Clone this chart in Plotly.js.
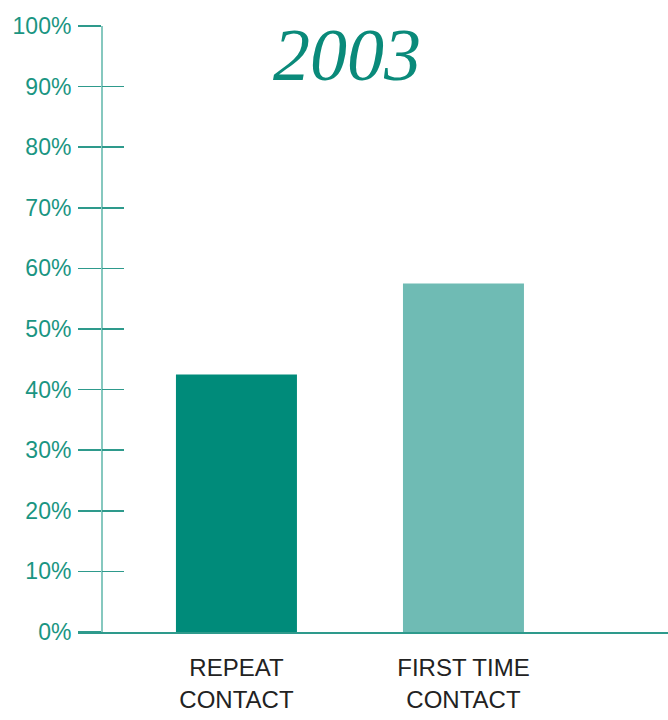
<!DOCTYPE html>
<html><head><meta charset="utf-8">
<script src="https://cdn.plot.ly/plotly-3.0.1.min.js"></script>
<style>body{margin:0;background:#fff}</style>
</head><body>
<div id="chart" style="width:668px;height:720px"></div>
<script>
const categories = ["REPEAT<br>CONTACT", "FIRST TIME<br>CONTACT"];
const values = [42.5, 57.5];
const barColors = ["#008b7a", "#6fbbb4"];
const yTicks = [0,10,20,30,40,50,60,70,80,90,100];
const yTickText = ["0%","10%","20%","30%","40%","50%","60%","70%","80%","90%","100%"];
const chartTitle = "2003";

const narrow = "Liberation Sans Narrow, Arial Narrow, Liberation Sans, Arial, sans-serif";
const yPos = (101-78)/590;

const data = [{
  type: "bar",
  x: [0, 1],
  y: values,
  marker: {color: barColors, line: {width: 0}},
  width: 0.533,
  hoverinfo: "skip"
}, {
  type: "scatter", x: [0], y: [0], yaxis: "y2", mode: "markers",
  marker: {opacity: 0}, hoverinfo: "skip"
}];

const layout = {
  width: 668, height: 720,
  margin: {l: 78, r: 0, t: 26, b: 88},
  paper_bgcolor: "#fff", plot_bgcolor: "#fff",
  showlegend: false,
  xaxis: {
    range: [-0.698, 1.901],
    tickvals: [0, 1], ticktext: categories,
    showgrid: false, zeroline: false,
    showline: true, linecolor: "#2e9a8c", linewidth: 1.5,
    ticks: "", ticklabelstandoff: 14,
    tickfont: {family: narrow, size: 24, color: "#222"}
  },
  yaxis: {
    range: [0, 100], tickvals: yTicks, ticktext: yTickText,
    anchor: "free", position: yPos,
    showgrid: false, zeroline: false,
    showline: true, linecolor: "#86c8bf", linewidth: 1.5,
    ticks: "outside", ticklen: 23, tickcolor: "#2e9a8c", tickwidth: 1.5,
    ticklabelstandoff: 2,
    tickfont: {family: narrow, size: 23, color: "#1a9582"}
  },
  yaxis2: {
    range: [0, 100], tickvals: yTicks,
    overlaying: "y", anchor: "free", position: yPos, side: "left",
    showgrid: false, zeroline: false, showline: false,
    ticks: "inside", ticklen: 22, tickcolor: "#2e9a8c", tickwidth: 1.5,
    showticklabels: false
  },
  annotations: [{
    text: chartTitle, xref: "paper", yref: "paper",
    x: (347-78)/590, y: (632-55)/606, xanchor: "center", yanchor: "middle",
    showarrow: false,
    font: {family: "Liberation Serif, Times New Roman, serif", size: 74, color: "#0a8a7a", style: "italic"}
  }]
};

Plotly.newPlot("chart", data, layout, {displayModeBar: false, staticPlot: true});
</script>
</body></html>
